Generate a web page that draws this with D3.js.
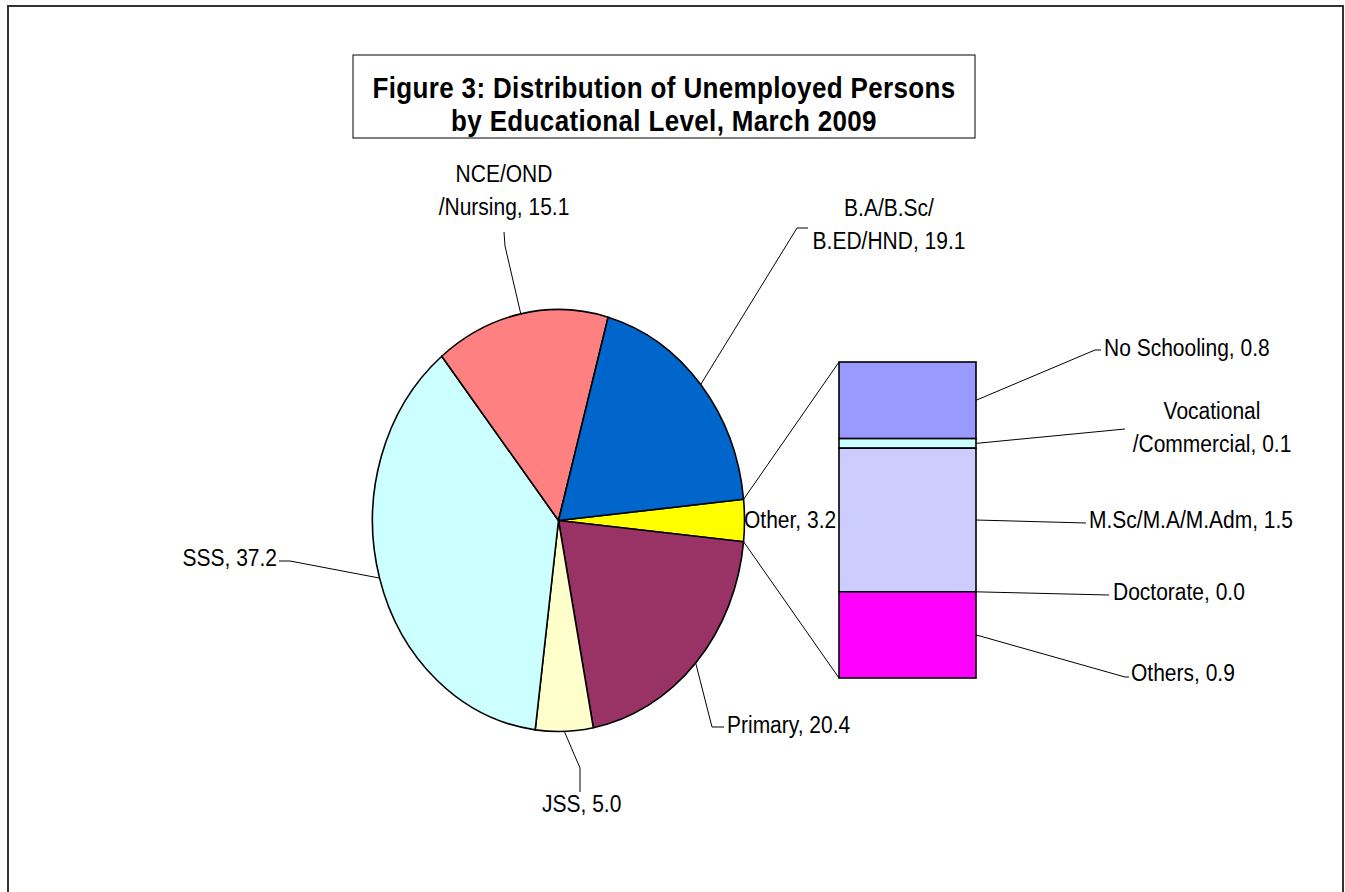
<!DOCTYPE html>
<html lang="en">
<head>
<meta charset="UTF-8">
<title>Figure 3</title>
<script src="https://d3js.org/d3.v7.min.js"></script>
<style>
  body { margin: 0; background: #fff; }
  text { font-family: "Liberation Sans", Arial, sans-serif; fill: #000; }
</style>
</head>
<body>
<script>
// pie data (clockwise, starting with the "Other" slice that is split out)
const pieCategories = [["Other"], ["Primary"], ["JSS"], ["SSS"], ["NCE/OND", "/Nursing"], ["B.A/B.Sc/", "B.ED/HND"]];
const pieValues = [3.2, 20.4, 5.0, 37.2, 15.1, 19.1];
const pieColors = ["#FFFF00", "#993366", "#FFFFCC", "#CCFFFF", "#FF8080", "#0066CC"];

// breakdown of "Other" (top to bottom)
const barCategories = [["No Schooling"], ["Vocational", "/Commercial"], ["M.Sc/M.A/M.Adm"], ["Doctorate"], ["Others"]];
const barValues = [0.8, 0.1, 1.5, 0.0, 0.9];
const barColors = ["#9999FF", "#CCFFFF", "#CCCCFF", "#CCCCCC", "#FF00FF"];

const titleLines = ["Figure 3: Distribution of Unemployed Persons", "by Educational Level, March 2009"];

const width = 1345, height = 892;
const sy = 1.14; // picture is stretched vertically

const svg = d3.select("body").append("svg")
  .attr("width", width)
  .attr("height", height);

// outer frame
svg.append("rect")
  .attr("x", 8).attr("y", 6)
  .attr("width", 1335).attr("height", 900)
  .attr("fill", "none").attr("stroke", "#333").attr("stroke-width", 2);

// title box
svg.append("rect")
  .attr("x", 353).attr("y", 55)
  .attr("width", 622).attr("height", 83)
  .attr("fill", "#fff").attr("stroke", "#000").attr("stroke-width", 1);

function addText(g, x, y, str, anchor, size, weight, scaleY) {
  return g.append("text")
    .attr("transform", "translate(" + x + "," + y + ") scale(1," + (scaleY || sy) + ")")
    .attr("text-anchor", anchor)
    .style("font-size", size + "px")
    .style("font-weight", weight || "normal")
    .text(str);
}

titleLines.forEach((t, i) => {
  addText(svg, 664, 98 + i * 33, t, "middle", 26, "bold", 1.1)
    .style("letter-spacing", "0.35px");
});

// pie (ellipse)
const cx = 558.5, cy = 520.5, rx = 186, ry = 211;
const otherSpan = pieValues[0] / d3.sum(pieValues) * 2 * Math.PI;
const pie = d3.pie().sort(null)
  .startAngle(Math.PI / 2 - otherSpan / 2)
  .endAngle(Math.PI / 2 - otherSpan / 2 + 2 * Math.PI);
const arcs = pie(pieValues);
const arc = d3.arc().innerRadius(0).outerRadius(rx);

const pieG = svg.append("g")
  .attr("transform", "translate(" + cx + "," + cy + ") scale(1," + (ry / rx) + ")");
pieG.selectAll("path")
  .data(arcs)
  .enter()
  .append("path")
  .attr("d", arc)
  .attr("fill", (d, i) => pieColors[i])
  .attr("stroke", "#000")
  .attr("stroke-width", 1.6)
  .attr("stroke-linejoin", "round")
  .attr("vector-effect", "non-scaling-stroke");

function edge(a) {
  return [cx + Math.sin(a) * rx, cy - Math.cos(a) * ry];
}

// secondary bar
const barX = 839, barW = 137;
const yBar = d3.scaleLinear().domain([0, d3.sum(barValues)]).range([362, 678]);
let acc = 0;
const segs = barValues.map(v => { const s = { y0: acc, y1: acc + v }; acc += v; return s; });

// series lines
const lineG = svg.append("g").attr("stroke", "#000").attr("stroke-width", 1).attr("fill", "none");
const pTop = edge(arcs[0].startAngle), pBot = edge(arcs[0].endAngle);
lineG.append("line").attr("x1", pTop[0]).attr("y1", pTop[1]).attr("x2", barX).attr("y2", yBar(0));
lineG.append("line").attr("x1", pBot[0]).attr("y1", pBot[1]).attr("x2", barX).attr("y2", yBar(d3.sum(barValues)));

svg.append("g").selectAll("rect")
  .data(segs)
  .enter()
  .append("rect")
  .attr("x", barX)
  .attr("y", d => yBar(d.y0))
  .attr("width", barW)
  .attr("height", d => yBar(d.y1) - yBar(d.y0))
  .attr("fill", (d, i) => barColors[i])
  .attr("stroke", "#000")
  .attr("stroke-width", 1.6);

// label layout: anchor, x, baseline of last line, leader bend points
const pieLabelPos = [
  { anchor: "start", x: 744, y: 528, pts: [] },
  { anchor: "start", x: 727, y: 733, pts: [[712, 727], [724, 727]] },
  { anchor: "start", x: 542, y: 812, pts: [[580, 768], [580, 792]] },
  { anchor: "end", x: 277, y: 566, pts: [[290, 561], [279, 561]] },
  { anchor: "middle", x: 504, y: 215, pts: [[505, 246], [504, 232]] },
  { anchor: "middle", x: 889, y: 249, pts: [[797, 228], [808, 228]] }
];
const barLabelPos = [
  { anchor: "start", x: 1104, y: 356, pts: [[1095, 350], [1101, 350]] },
  { anchor: "middle", x: 1212, y: 452, pts: [[1125, 429]] },
  { anchor: "start", x: 1089, y: 528, pts: [[1086, 523]] },
  { anchor: "start", x: 1113, y: 600, pts: [[1109, 595]] },
  { anchor: "start", x: 1131, y: 681, pts: [[1125, 677], [1129, 677]] }
];

const labelG = svg.append("g");
const line = d3.line();

function drawLabel(lines, value, pos, start) {
  if (pos.pts.length) {
    labelG.append("path")
      .attr("d", line([start].concat(pos.pts)))
      .attr("fill", "none").attr("stroke", "#000").attr("stroke-width", 1);
  }
  const n = lines.length;
  lines.forEach((l, i) => {
    const str = i === n - 1 ? l + ", " + value.toFixed(1) : l;
    addText(labelG, pos.x, pos.y - (n - 1 - i) * 33, str, pos.anchor, 21);
  });
}

arcs.forEach((a, i) => {
  drawLabel(pieCategories[i], pieValues[i], pieLabelPos[i], edge((a.startAngle + a.endAngle) / 2));
});
segs.forEach((s, i) => {
  drawLabel(barCategories[i], barValues[i], barLabelPos[i], [barX + barW, yBar((s.y0 + s.y1) / 2)]);
});
</script>
</body>
</html>
